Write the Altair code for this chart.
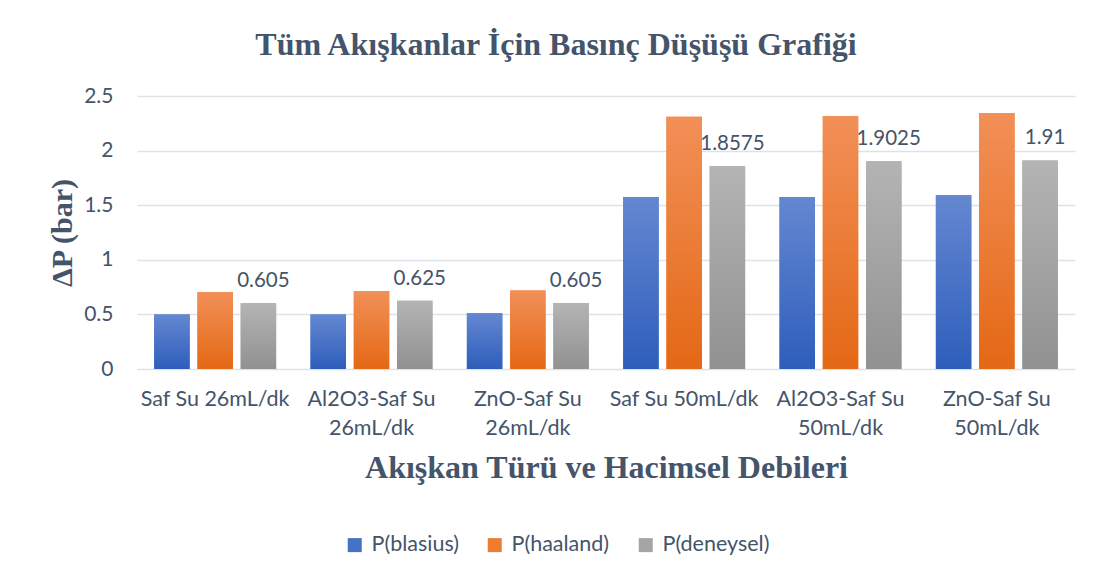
import altair as alt
import pandas as pd

categories = ["Saf Su 26mL/dk", "Al2O3-Saf Su 26mL/dk", "ZnO-Saf Su 26mL/dk",
              "Saf Su 50mL/dk", "Al2O3-Saf Su 50mL/dk", "ZnO-Saf Su 50mL/dk"]
series = ["P(blasius)", "P(haaland)", "P(deneysel)"]
blasius = [0.50, 0.50, 0.51, 1.575, 1.575, 1.59]
haaland = [0.705, 0.715, 0.72, 2.31, 2.317, 2.345]
deneysel = [0.605, 0.625, 0.605, 1.8575, 1.9025, 1.91]
y_ticks = [0, 0.5, 1, 1.5, 2, 2.5]

solid = ["#4472C4", "#ED7D31", "#A5A5A5"]
grad = {
    "P(blasius)": ("#6587D1", "#2D5EBB"),
    "P(haaland)": ("#F29058", "#E46815"),
    "P(deneysel)": ("#B4B4B4", "#919191"),
}

rows = []
for s, vals in zip(series, [blasius, haaland, deneysel]):
    for c, v in zip(categories, vals):
        rows.append({"category": c, "series": s, "value": v})
df = pd.DataFrame(rows)

TXT = "#44546A"
label_expr = ("indexof(datum.label,'-')>0 ? [substring(datum.label,0,lastindexof(datum.label,' ')), "
              "substring(datum.label,lastindexof(datum.label,' ')+1)] : datum.label")

x_enc = alt.X("category:N", sort=categories,
              scale=alt.Scale(paddingInner=0.22, paddingOuter=0.11),
              axis=alt.Axis(title="Akışkan Türü ve Hacimsel Debileri", labelAngle=0,
                            labelExpr=label_expr, labelFont="Lato", labelFontSize=21.5,
                            labelColor=TXT, labelPadding=19, labelLineHeight=29,
                            ticks=False, domain=False, grid=False,
                            titleFont="Liberation Serif", titleFontSize=32,
                            titleFontWeight="bold", titleColor=TXT, titlePadding=14))
xo_enc = alt.XOffset("series:N", sort=series,
                     scale=alt.Scale(domain=series, paddingInner=0.18, paddingOuter=0))
y_enc = alt.Y("value:Q", scale=alt.Scale(domain=[0, 2.5], nice=False),
              axis=alt.Axis(title="ΔP (bar)", values=y_ticks, labelExpr="'' + datum.value",
                            labelFont="Lato", labelFontSize=21, labelColor=TXT,
                            labelPadding=24, ticks=False, domain=False,
                            gridColor="#DEE2E7", gridWidth=1.6,
                            titleFont="Liberation Serif", titleFontSize=30,
                            titleFontWeight="bold", titleColor=TXT, titlePadding=6))

base = alt.Chart(df)

legend_layer = base.mark_bar().encode(
    x=x_enc, xOffset=xo_enc, y=y_enc,
    color=alt.Color("series:N", sort=series,
                    scale=alt.Scale(domain=series, range=solid),
                    legend=alt.Legend(title=None, orient="none", direction="horizontal",
                                      legendX=207, legendY=438,
                                      symbolType="square", symbolSize=196,
                                      symbolStrokeWidth=0, labelFont="Lato",
                                      labelFontSize=21.5, labelColor=TXT,
                                      labelOffset=6, columnPadding=25)))

layers = [legend_layer]
for s in series:
    top, bot = grad[s]
    layers.append(
        base.transform_filter(alt.datum.series == s).mark_bar(
            fill=alt.Gradient(gradient="linear",
                              stops=[alt.GradientStop(color=top, offset=0),
                                     alt.GradientStop(color=bot, offset=1)],
                              x1=0, x2=0, y1=0, y2=1)
        ).encode(x=x_enc, xOffset=xo_enc, y=y_enc)
    )

labels = base.transform_filter(alt.datum.series == "P(deneysel)").mark_text(
    font="Lato", fontSize=20.5, color=TXT, baseline="bottom", align="center", dy=-12, dx=5
).encode(x=x_enc, xOffset=xo_enc, y=y_enc, text=alt.Text("value:Q"))
layers.append(labels)

chart = alt.layer(*layers).properties(
    width=938, height=273,
    title=alt.Title("Tüm Akışkanlar İçin Basınç Düşüşü Grafiği", font="Liberation Serif",
                    fontSize=32, fontWeight="bold", color=TXT, anchor="middle",
                    dx=-50, offset=23),
    autosize=alt.AutoSizeParams(type="none"),
    padding={"left": 129, "top": 88, "right": 16, "bottom": 202},
).configure(background="white").configure_view(stroke=None)

chart.save("out.html", embed_options={"renderer": "svg", "actions": False})
